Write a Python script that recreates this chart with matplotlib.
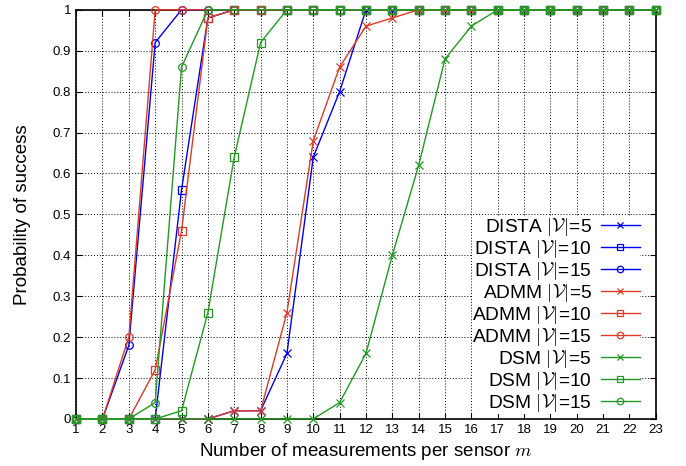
import matplotlib.pyplot as plt
import numpy as np

plt.rcParams['font.family'] = ['Liberation Sans', 'DejaVu Sans']
plt.rcParams['mathtext.fontset'] = 'cm'

m = np.arange(1, 24)

# probability of success per method / network size
dista_5 = [0, 0, 0, 0, 0, 0, 0.02, 0.02, 0.16, 0.64, 0.80, 1, 1, 1, 1, 1, 1, 1, 1, 1, 1, 1, 1]
dista_10 = [0, 0, 0, 0, 0.56, 0.98, 1, 1, 1, 1, 1, 1, 1, 1, 1, 1, 1, 1, 1, 1, 1, 1, 1]
dista_15 = [0, 0, 0.18, 0.92, 1, 1, 1, 1, 1, 1, 1, 1, 1, 1, 1, 1, 1, 1, 1, 1, 1, 1, 1]
admm_5 = [0, 0, 0, 0, 0, 0, 0.02, 0.02, 0.26, 0.68, 0.86, 0.96, 0.98, 1, 1, 1, 1, 1, 1, 1, 1, 1, 1]
admm_10 = [0, 0, 0, 0.12, 0.46, 0.98, 1, 1, 1, 1, 1, 1, 1, 1, 1, 1, 1, 1, 1, 1, 1, 1, 1]
admm_15 = [0, 0, 0.20, 1, 1, 1, 1, 1, 1, 1, 1, 1, 1, 1, 1, 1, 1, 1, 1, 1, 1, 1, 1]
dsm_5 = [0, 0, 0, 0, 0, 0, 0, 0, 0, 0, 0.04, 0.16, 0.40, 0.62, 0.88, 0.96, 1, 1, 1, 1, 1, 1, 1]
dsm_10 = [0, 0, 0, 0, 0.02, 0.26, 0.64, 0.92, 1, 1, 1, 1, 1, 1, 1, 1, 1, 1, 1, 1, 1, 1, 1]
dsm_15 = [0, 0, 0, 0.04, 0.86, 1, 1, 1, 1, 1, 1, 1, 1, 1, 1, 1, 1, 1, 1, 1, 1, 1, 1]

V = r'$|\mathcal{V}|$'
series = [
    ("DISTA", 5, dista_5, "#0000ee", "x"),
    ("DISTA", 10, dista_10, "#0000ee", "s"),
    ("DISTA", 15, dista_15, "#0000ee", "o"),
    ("ADMM", 5, admm_5, "#e03a24", "x"),
    ("ADMM", 10, admm_10, "#e03a24", "s"),
    ("ADMM", 15, admm_15, "#e03a24", "o"),
    ("DSM", 5, dsm_5, "#229a22", "x"),
    ("DSM", 10, dsm_10, "#229a22", "s"),
    ("DSM", 15, dsm_15, "#229a22", "o"),
]

fig = plt.figure(figsize=(6.86, 4.66), dpi=100)
ax = fig.add_axes([0.111, 0.101, 0.845, 0.878])

for name, n, vals, col, mk in series:
    ax.plot(m, vals, color=col, marker=mk, lw=1.0, ms=5.5, mew=0.9,
            mfc='none', clip_on=False, zorder=3,
            label=f"{name} {V}={n}")

ax.set_xlim(1, 23)
ax.set_ylim(0, 1)
ax.set_xticks(m)
yt = np.round(np.arange(0, 1.01, 0.1), 1)
ax.set_yticks(yt)
ax.set_yticklabels(['0'] + [f"{v:g}" for v in yt[1:-1]] + ['1'])
ax.tick_params(direction='in', top=True, right=True, labelsize=9.5, length=4, width=0.8)
ax.grid(True, color='black', linestyle=(0, (1, 2)), linewidth=0.7)
for s in ax.spines.values():
    s.set_linewidth(1.2)

ax.set_xlabel("Number of measurements per sensor $m$", fontsize=13.5, labelpad=4)
ax.set_ylabel("Probability of success", fontsize=13.5, labelpad=16)

leg = ax.legend(loc='lower right', bbox_to_anchor=(0.972, 0.012),
                markerfirst=False, fontsize=13.8,
                frameon=True, fancybox=False, edgecolor='none', framealpha=1,
                labelspacing=0.0, handlelength=2.0, handletextpad=0.5,
                borderpad=0.0, borderaxespad=0.0, markerscale=0.85)
leg.set_zorder(5)

fig.savefig("out.png", dpi=100)
